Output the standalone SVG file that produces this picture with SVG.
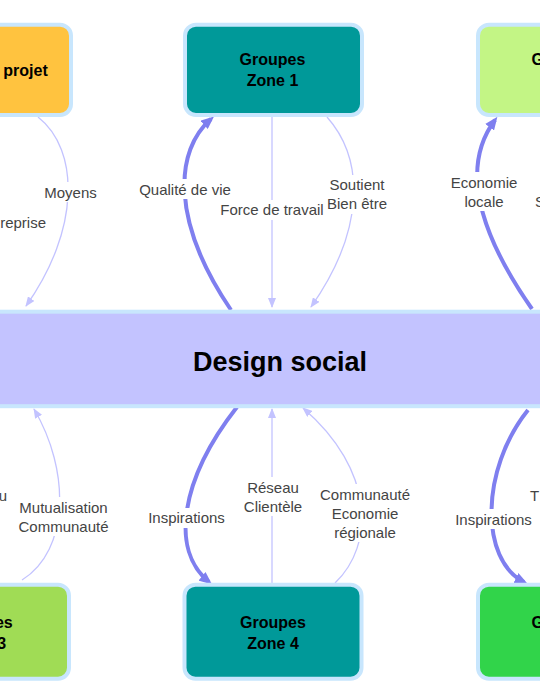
<svg xmlns="http://www.w3.org/2000/svg" width="540" height="700" viewBox="0 0 540 700">
<defs>
<style>
.node rect{stroke:#c8e6fd;stroke-width:4}
.nt{font-family:"Liberation Sans",Arial,sans-serif;font-weight:bold;font-size:16px;fill:#000;text-anchor:middle}
.big{font-size:27px}
.lbl{font-family:"Liberation Sans",Arial,sans-serif;font-size:15px;fill:#444;text-anchor:middle}
.bg{fill:#fff}
.thick{fill:none;stroke:#7f7fef;stroke-width:4}
.thin{fill:none;stroke:#c3c3ff;stroke-width:1.3}
</style>
<marker id="ah" markerUnits="userSpaceOnUse" viewBox="0 0 13 11" markerWidth="13" markerHeight="11" refX="9" refY="5.5" orient="auto">
<path d="M0,0 L13,5.5 L0,11 z" fill="#7f7fef"/>
</marker>
<marker id="al" markerUnits="userSpaceOnUse" viewBox="0 0 10 8" markerWidth="10" markerHeight="8" refX="9" refY="4" orient="auto">
<path d="M0,0 L10,4 L0,8 z" fill="#c3c3ff"/>
</marker>
</defs>
<rect width="540" height="700" fill="#fff"/>

<g id="connectors">
<path class="thick" marker-end="url(#ah)" d="M231,310 C170,220 175,150 211,119"/>
<path class="thin" marker-end="url(#al)" d="M272,117 L272,307"/>
<path class="thin" marker-end="url(#al)" d="M327,117 C365,160 365,230 311,307"/>
<path class="thin" marker-end="url(#al)" d="M38,117 C80,150 80,230 26,306"/>
<path class="thick" marker-end="url(#ah)" d="M532,309 C470,220 465,160 495,120"/>
<path class="thin" marker-end="url(#al)" d="M22,580 C70,550 70,470 34,409"/>
<path class="thick" marker-end="url(#ah)" d="M237,407 C180,480 170,550 209,582"/>
<path class="thin" marker-end="url(#al)" d="M272,583 L272,409"/>
<path class="thin" marker-end="url(#al)" d="M335,583 C375,545 375,470 303,408"/>
<path class="thick" marker-end="url(#ah)" d="M528,410 C480,470 480,560 524,582"/>

<g id="labels">
<rect class="bg" x="136" y="179" width="98" height="20"/>
<text class="lbl" x="185" y="194.5">Qualité de vie</text>
<rect class="bg" x="219" y="200" width="107" height="20"/>
<text class="lbl" x="272" y="215">Force de travail</text>
<rect class="bg" x="324" y="175" width="66" height="39"/>
<text class="lbl" x="357" y="190">Soutient</text>
<text class="lbl" x="357" y="209">Bien être</text>
<rect class="bg" x="42" y="182" width="57" height="20"/>
<text class="lbl" x="70.5" y="198">Moyens</text>
<text class="lbl" x="46" y="227.5" style="text-anchor:end">reprise</text>
<rect class="bg" x="449" y="172" width="70" height="39"/>
<text class="lbl" x="484" y="188">Economie</text>
<text class="lbl" x="484" y="207">locale</text>
<text class="lbl" x="535" y="207" style="text-anchor:start">S</text>
<text class="lbl" x="7" y="501" style="text-anchor:end">u</text>
<rect class="bg" x="16" y="497" width="96" height="39"/>
<text class="lbl" x="63.5" y="513">Mutualisation</text>
<text class="lbl" x="63.5" y="532">Communauté</text>
<rect class="bg" x="145" y="508" width="83" height="20"/>
<text class="lbl" x="186.5" y="523">Inspirations</text>
<rect class="bg" x="242" y="477" width="64" height="39"/>
<text class="lbl" x="273" y="492.5">Réseau</text>
<text class="lbl" x="273" y="511.5">Clientèle</text>
<rect class="bg" x="316" y="484" width="98" height="58"/>
<text class="lbl" x="365" y="499.5">Communauté</text>
<text class="lbl" x="365" y="518.5">Economie</text>
<text class="lbl" x="365" y="537.5">régionale</text>
<rect class="bg" x="452" y="509" width="83" height="20"/>
<text class="lbl" x="493.5" y="524.5">Inspirations</text>
<text class="lbl" x="530" y="500.5" style="text-anchor:start">T</text>
</g>
</g>

<g id="design-social" class="node">
<rect x="-10" y="311.7" width="560" height="94.5" fill="#c3c3ff"/>
<text class="nt big" x="280" y="370.5">Design social</text>
</g>

<g id="node-projet" class="node">
<rect x="-106" y="24.7" width="177" height="90.3" rx="11" fill="#ffc33f"/>
<text class="nt" x="3.3" y="76" style="text-anchor:start">projet</text>
</g>

<g id="zone1" class="node">
<rect x="185" y="24.7" width="177" height="90.3" rx="11" fill="#009999"/>
<text class="nt" x="272.5" y="65">Groupes</text>
<text class="nt" x="272.5" y="86">Zone 1</text>
</g>

<g id="zone2" class="node">
<rect x="478" y="24.7" width="177" height="90.3" rx="11" fill="#c3f585"/>
<text class="nt" x="531.5" y="65" style="text-anchor:start">G</text>
</g>

<g id="zone3" class="node">
<rect x="-108" y="584.7" width="177" height="94" rx="11" fill="#a0dc55"/>
<text class="nt" x="12.7" y="627.5" style="text-anchor:end">es</text>
<text class="nt" x="6.2" y="648.5" style="text-anchor:end">3</text>
</g>

<g id="zone4" class="node">
<rect x="184.5" y="584.7" width="177" height="94" rx="11" fill="#009999"/>
<text class="nt" x="273" y="627.5">Groupes</text>
<text class="nt" x="273" y="648.5">Zone 4</text>
</g>

<g id="zone5" class="node">
<rect x="478" y="584.7" width="177" height="94" rx="11" fill="#31d44a"/>
<text class="nt" x="531.5" y="627.5" style="text-anchor:start">G</text>
</g>
</svg>
